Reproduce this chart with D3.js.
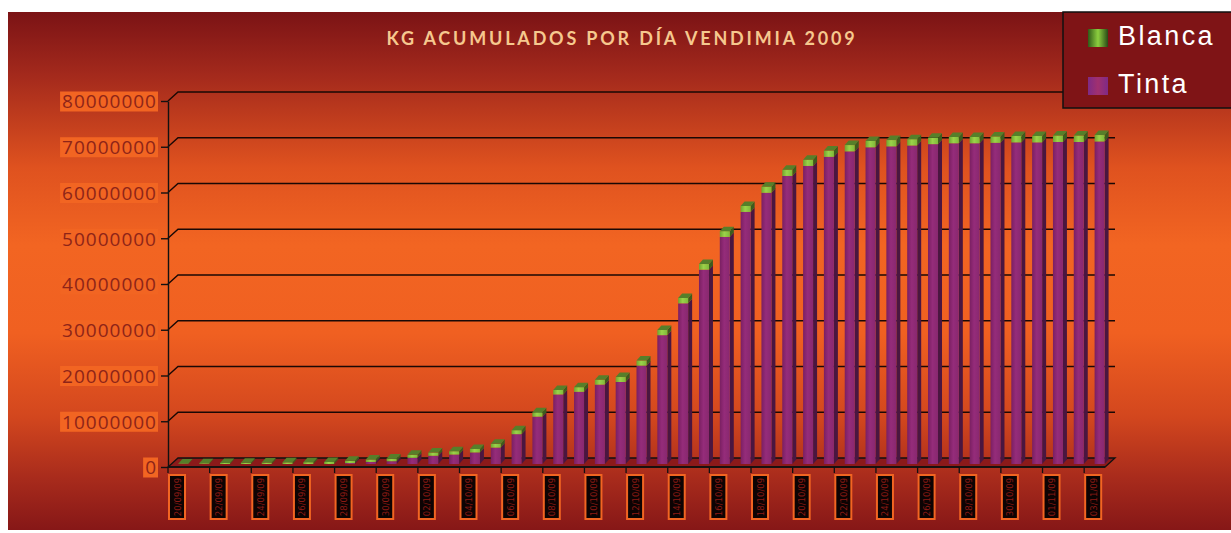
<!DOCTYPE html>
<html>
<head>
<meta charset="utf-8">
<script src="https://cdn.jsdelivr.net/npm/d3@7"></script>
<style>
  body { margin: 0; background: #fff; }
  svg { display: block; }
</style>
</head>
<body>
<div id="chart"></div>
<script>
// dias de vendimia (acumulado diario)
var dias = ["20/09/09", "21/09/09", "22/09/09", "23/09/09", "24/09/09", "25/09/09", "26/09/09", "27/09/09",
  "28/09/09", "29/09/09", "30/09/09", "01/10/09", "02/10/09", "03/10/09", "04/10/09", "05/10/09",
  "06/10/09", "07/10/09", "08/10/09", "09/10/09", "10/10/09", "11/10/09", "12/10/09", "13/10/09",
  "14/10/09", "15/10/09", "16/10/09", "17/10/09", "18/10/09", "19/10/09", "20/10/09", "21/10/09",
  "22/10/09", "23/10/09", "24/10/09", "25/10/09", "26/10/09", "27/10/09", "28/10/09", "29/10/09",
  "30/10/09", "31/10/09", "01/11/09", "02/11/09", "03/11/09"];

// kg acumulados uva blanca
var blanca = [100000, 150000, 220000, 280000, 320000, 360000, 400000, 450000,
  500000, 550000, 600000, 650000, 700000, 740000, 780000, 820000,
  880000, 950000, 1000000, 1020000, 1050000, 1070000, 1100000, 1140000,
  1180000, 1220000, 1260000, 1300000, 1320000, 1340000, 1350000, 1360000,
  1370000, 1380000, 1380000, 1390000, 1390000, 1400000, 1400000, 1400000,
  1410000, 1410000, 1410000, 1410000, 1410000];

// kg acumulados uva tinta
var tinta = [0, 0, 0, 0, 0, 0, 0, 0,
  200000, 450000, 600000, 1350000, 1800000, 2060000, 2520000, 3580000,
  6520000, 10350000, 15200000, 15780000, 17350000, 17930000, 21500000, 28160000,
  35120000, 42480000, 49640000, 55100000, 59280000, 62960000, 65150000, 67140000,
  68330000, 69220000, 69420000, 69610000, 69910000, 70100000, 70100000, 70200000,
  70290000, 70290000, 70390000, 70390000, 70490000];

var yTicks = [0, 10000000, 20000000, 30000000, 40000000, 50000000, 60000000, 70000000, 80000000];
var series = ["Blanca", "Tinta"];

var width = 1231, height = 533;
var depth = { dx: 10, dy: -9 };   // fondo del grafico 3D
var barD = { dx: 4, dy: -4.5 };    // profundidad de cada barra

var svg = d3.select("#chart").append("svg")
  .attr("width", width)
  .attr("height", height);

var defs = svg.append("defs");

function linGrad(id, horizontal, stops) {
  var g = defs.append("linearGradient").attr("id", id)
    .attr("x1", 0).attr("y1", 0)
    .attr("x2", horizontal ? 1 : 0).attr("y2", horizontal ? 0 : 1);
  stops.forEach(function (s) {
    g.append("stop").attr("offset", s[0]).attr("stop-color", s[1]);
  });
}

linGrad("bg", false, [[0, "#7b1315"], [0.12, "#a3291c"], [0.3, "#df521f"], [0.45, "#f26522"],
  [0.62, "#f06021"], [0.78, "#d3471e"], [0.9, "#a82b1c"], [1, "#861717"]]);
linGrad("tintaFront", true, [[0, "#7a1f62"], [0.45, "#952c7a"], [1, "#88286f"]]);
linGrad("blancaFront", true, [[0, "#6fa52e"], [0.45, "#9bd24a"], [1, "#7fba3a"]]);
linGrad("legBlanca", true, [[0, "#2f5a18"], [0.5, "#8ccf3f"], [1, "#2a4a16"]]);
linGrad("legTinta", true, [[0, "#7e2a86"], [0.5, "#a1306f"], [1, "#7e2a86"]]);

// fondo
svg.append("rect")
  .attr("x", 8).attr("y", 12)
  .attr("width", width - 8).attr("height", 518)
  .attr("fill", "url(#bg)");

// escalas
var x = d3.scaleBand()
  .domain(dias)
  .range([168, 1105])
  .padding(0);

var y = d3.scaleLinear()
  .domain([0, 80000000])
  .range([467, 101]);

// suelo
var x0 = x.range()[0], x1 = x.range()[1];
svg.append("path")
  .attr("d", "M" + x0 + "," + y(0) + "L" + x1 + "," + y(0) +
    "L" + (x1 + depth.dx) + "," + (y(0) + depth.dy) +
    "L" + (x0 + depth.dx) + "," + (y(0) + depth.dy) + "Z")
  .attr("fill", "#8b1a1a")
  .attr("stroke", "#111")
  .attr("stroke-width", 1.3);

// lineas de cuadricula
svg.selectAll(".grid")
  .data(yTicks.filter(function (d) { return d > 0; }))
  .enter()
  .append("path")
  .attr("class", "grid")
  .attr("d", function (d) {
    return "M" + x0 + "," + y(d) + "L" + (x0 + depth.dx) + "," + (y(d) + depth.dy) +
      "L" + (x1 + depth.dx) + "," + (y(d) + depth.dy);
  })
  .attr("fill", "none")
  .attr("stroke", "#1a0805")
  .attr("stroke-width", 1.4);

// eje Y
var yAxis = svg.append("g")
  .attr("transform", "translate(" + x0 + ",0)")
  .call(d3.axisLeft(y).tickValues(yTicks).tickSize(7).tickSizeOuter(0).tickFormat(d3.format("d")));
yAxis.select(".domain").attr("stroke", "#111").attr("stroke-width", 1.4);
yAxis.selectAll(".tick line").attr("stroke", "#111").attr("stroke-width", 1.4);
yAxis.selectAll(".tick text")
  .attr("x", -11)
  .attr("dy", "0.36em")
  .style("font-family", "'Open Sans', sans-serif")
  .style("font-size", "19px")
  .style("letter-spacing", "1px")
  .attr("fill", "#8e2418");
yAxis.selectAll(".tick").each(function () {
  var t = d3.select(this).select("text");
  var w = t.node().getComputedTextLength();
  d3.select(this).insert("rect", "text")
    .attr("x", -11 - w - 2)
    .attr("y", -10)
    .attr("width", w + 3)
    .attr("height", 20)
    .attr("fill", "#f26522");
});

// eje X (frente)
svg.append("line")
  .attr("x1", x0).attr("x2", x1)
  .attr("y1", y(0)).attr("y2", y(0))
  .attr("stroke", "#111").attr("stroke-width", 1.4);

var xLabels = dias.filter(function (d, i) { return i % 2 === 0; });
var xt = svg.selectAll(".xtick")
  .data(xLabels)
  .enter()
  .append("g")
  .attr("class", "xtick")
  .attr("transform", function (d) { return "translate(" + x(d) + "," + y(0) + ")"; });
xt.append("line")
  .attr("y1", 0).attr("y2", 6)
  .attr("stroke", "#111").attr("stroke-width", 1.3);
xt.append("rect")
  .attr("x", 1).attr("y", 8)
  .attr("width", 16).attr("height", 44)
  .attr("fill", "#0d0303")
  .attr("stroke", "#f26522")
  .attr("stroke-width", 2);
xt.append("text")
  .attr("transform", "translate(12.5,30) rotate(-90)")
  .attr("text-anchor", "middle")
  .style("font-family", "'DejaVu Sans Condensed', 'DejaVu Sans', sans-serif")
  .style("font-size", "9.5px")
  .attr("fill", "#8a1a14")
  .text(function (d) { return d; });

// barras apiladas 3D
var rows = dias.map(function (d, i) { return { dia: d, Tinta: tinta[i], Blanca: blanca[i] }; });
var stack = d3.stack().keys(["Tinta", "Blanca"]);
var stacked = stack(rows);

var colors = {
  Tinta: { front: "url(#tintaFront)", side: "#4a1640", top: "#6e2262" },
  Blanca: { front: "url(#blancaFront)", side: "#3c5c1e", top: "#567f2a" }
};

var barW = 10;
var shift = { dx: 5, dy: -3 };

function barX(d) { return x(d.data.dia) + (x.bandwidth() - barW) / 2 + shift.dx; }

stacked.forEach(function (s, si) {
  var c = colors[s.key];
  var g = svg.append("g").attr("class", "serie-" + s.key);
  var segs = s.filter(function (d) { return d[1] > d[0]; });
  // lateral
  g.selectAll(".side")
    .data(segs)
    .enter()
    .append("path")
    .attr("d", function (d) {
      var bx = barX(d) + barW, yt = y(d[1]) + shift.dy, yb = y(d[0]) + shift.dy;
      return "M" + bx + "," + yt + "L" + (bx + barD.dx) + "," + (yt + barD.dy) +
        "L" + (bx + barD.dx) + "," + (yb + barD.dy) + "L" + bx + "," + yb + "Z";
    })
    .attr("fill", c.side);
  // frente
  g.selectAll(".front")
    .data(segs)
    .enter()
    .append("rect")
    .attr("x", barX)
    .attr("y", function (d) { return y(d[1]) + shift.dy; })
    .attr("width", barW)
    .attr("height", function (d) { return y(d[0]) - y(d[1]); })
    .attr("fill", c.front);
  // tapa (solo en la serie superior)
  if (si === stacked.length - 1) {
    g.selectAll(".top")
      .data(segs)
      .enter()
      .append("path")
      .attr("d", function (d) {
        var bx = barX(d), yt = y(d[1]) + shift.dy;
        return "M" + bx + "," + yt + "L" + (bx + barW) + "," + yt +
          "L" + (bx + barW + barD.dx) + "," + (yt + barD.dy) +
          "L" + (bx + barD.dx) + "," + (yt + barD.dy) + "Z";
      })
      .attr("fill", c.top);
  }
});

// titulo
svg.append("text")
  .attr("x", 622)
  .attr("y", 45)
  .attr("text-anchor", "middle")
  .style("font-family", "Lato, sans-serif")
  .style("font-weight", "bold")
  .style("font-size", "18px")
  .style("letter-spacing", "2.8px")
  .attr("fill", "#f6c88e")
  .text("KG ACUMULADOS POR DÍA VENDIMIA 2009");

// leyenda
var legend = svg.append("g");
legend.append("rect")
  .attr("x", 1063).attr("y", 12)
  .attr("width", 170).attr("height", 96)
  .attr("fill", "#7f1416")
  .attr("stroke", "#111")
  .attr("stroke-width", 1.5);
var li = legend.selectAll(".item")
  .data(series)
  .enter()
  .append("g")
  .attr("transform", function (d, i) { return "translate(1088," + (29 + i * 48) + ")"; });
li.append("rect")
  .attr("width", 20).attr("height", 18)
  .attr("fill", function (d) { return d === "Blanca" ? "url(#legBlanca)" : "url(#legTinta)"; });
li.append("text")
  .attr("x", 30).attr("y", 16)
  .style("font-family", "'Liberation Sans', Arial, sans-serif")
  .style("font-size", "27px")
  .style("letter-spacing", "2.4px")
  .attr("fill", "#fff")
  .text(function (d) { return d; });
</script>
</body>
</html>
